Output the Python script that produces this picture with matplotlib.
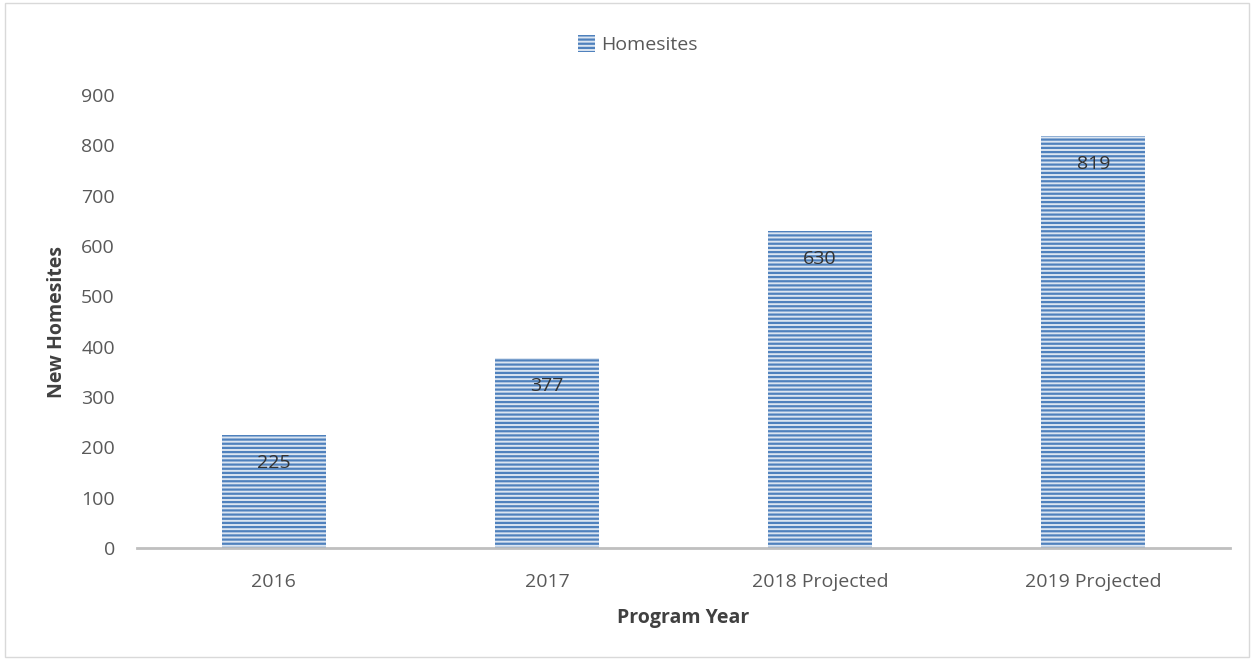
import matplotlib.pyplot as plt
import matplotlib as mpl

categories = ["2016", "2017", "2018 Projected", "2019 Projected"]
homesites = [225, 377, 630, 819]

mpl.rcParams['font.family'] = ['Open Sans', 'DejaVu Sans']
mpl.rcParams['hatch.linewidth'] = 1.6

fig = plt.figure(figsize=(12.54, 6.6), dpi=100)
ax = fig.add_axes([137 / 1254, 1 - 548 / 660, 1093 / 1254, 453 / 660])

x = range(len(categories))
bars = ax.bar(x, homesites, width=0.38, color='#dbe5f1', edgecolor='#4f81bd',
              hatch='----', linewidth=0, label='Homesites')

for b, v in zip(bars, homesites):
    ax.text(b.get_x() + b.get_width() / 2, v - 28 / 0.503, str(v),
            ha='center', va='center', fontsize=14, color='#333333')

ax.set_xlim(-0.5, len(categories) - 0.5)
ax.set_ylim(0, 900)
ax.set_yticks(range(0, 901, 100))
ax.set_xticks(list(x))
ax.set_xticklabels(categories)
ax.tick_params(axis='both', length=0, labelsize=14, colors='#595959')
ax.tick_params(axis='y', pad=16)
ax.tick_params(axis='x', pad=18)

for s in ['top', 'right', 'left']:
    ax.spines[s].set_visible(False)
ax.spines['bottom'].set_color('#bfbfbf')
ax.spines['bottom'].set_linewidth(2)

ax.set_ylabel('New Homesites', fontsize=14, fontweight='bold', color='#404040', labelpad=10)
ax.set_xlabel('Program Year', fontsize=14, fontweight='bold', color='#404040', labelpad=12)

# legend sits a bit left of the axes centre, like the original
ax.legend(loc='upper center', bbox_to_anchor=(0.458, 1.17), frameon=False, fontsize=14,
          handlelength=0.9, handleheight=0.9, handletextpad=0.3, labelcolor='#595959')

border = plt.Rectangle((0.004, 0.004), 0.992, 0.992, transform=fig.transFigure,
                       fill=False, edgecolor='#d9d9d9', linewidth=1)
fig.patches.append(border)

fig.savefig('out.png', dpi=100)
